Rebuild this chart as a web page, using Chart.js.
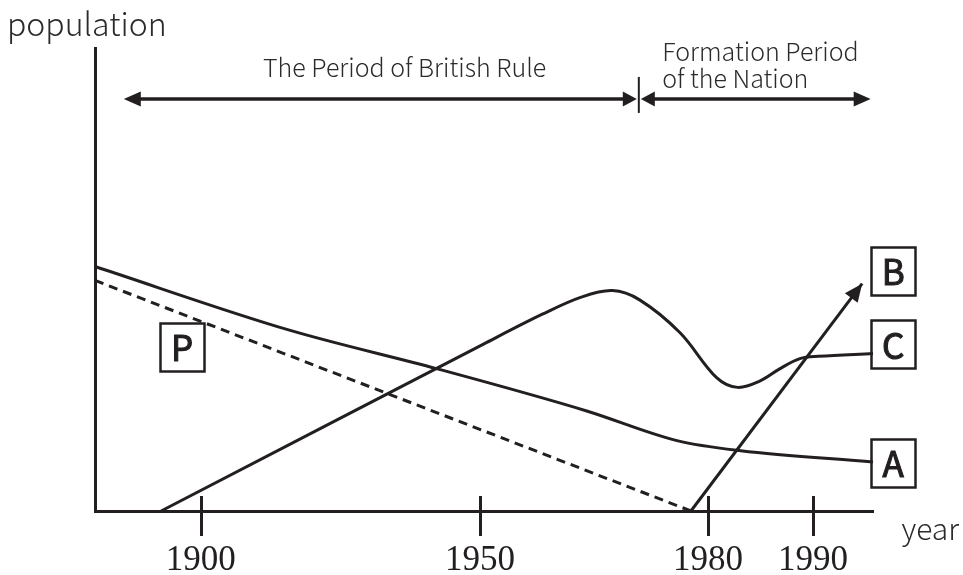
<!DOCTYPE html>
<html>
<head>
<meta charset="utf-8">
<script src="https://cdn.jsdelivr.net/npm/chart.js@4"></script>
<style>
  html, body { margin: 0; padding: 0; background: #fff; }
  #wrap { width: 963px; height: 575px; }
</style>
</head>
<body>
<div id="wrap"><canvas id="c" width="963" height="575"></canvas></div>
<script>
// ---- data (schematic x position 0-100 along the year axis, y = relative population 0-100) ----
const xTickPositions = [13.6, 49.5, 78.8, 92.3];
const xTickLabels = ['1900', '1950', '1980', '1990'];

const seriesA_x = [0, 25.1, 44.0, 63.2, 74.8, 83.0, 100];
const seriesA_y = [52.8, 39.0, 30.7, 21.6, 15.2, 13.0, 10.6];

const seriesP_x = [0, 76.6];
const seriesP_y = [49.8, 0];

const seriesB_x = [76.6, 98.6];
const seriesB_y = [0, 49.1];

const seriesC_x = [8.5, 50, 57.5, 62.5, 66.5, 70.0, 75.2, 79.9, 82.6, 85.5, 88.0, 90.6, 93.0, 100];
const seriesC_y = [0, 36.1, 42.5, 46.2, 47.6, 45.6, 38.5, 28.8, 26.7, 28.1, 30.7, 32.9, 33.4, 34.0];

const seriesLabels = ['A', 'P', 'B', 'C'];
const periodLabels = ['The Period of British Rule', 'Formation Period', 'of the Nation'];
const axisLabels = { y: 'population', x: 'year' };

const ink = '#231f20';
const textInk = '#2b2b2b';
const toPts = (xs, ys) => xs.map((x, i) => ({ x, y: ys[i] }));
const sansFam = '"Noto Sans CJK JP", "Noto Sans", sans-serif';

const overlay = {
  id: 'overlay',
  afterDraw(chart, args, o) {
    const { ctx, chartArea: ca, scales: { x, y } } = chart;
    const X = v => x.getPixelForValue(v), Y = v => y.getPixelForValue(v);
    ctx.save();
    ctx.strokeStyle = ink; ctx.fillStyle = ink;

    // tick marks crossing the x axis
    ctx.lineWidth = 3;
    x.ticks.forEach(t => {
      const px = Math.round(X(t.value)) + 0.5;
      ctx.beginPath(); ctx.moveTo(px, ca.bottom - 15); ctx.lineTo(px, ca.bottom + 25); ctx.stroke();
    });

    const head = (tx, ty, ang, len, hw) => {
      ctx.beginPath();
      ctx.moveTo(tx, ty);
      ctx.lineTo(tx - len * Math.cos(ang) + hw * Math.sin(ang), ty - len * Math.sin(ang) - hw * Math.cos(ang));
      ctx.lineTo(tx - len * Math.cos(ang) - hw * Math.sin(ang), ty - len * Math.sin(ang) + hw * Math.cos(ang));
      ctx.closePath(); ctx.fill();
    };

    // arrowhead at the end of series B
    const mB = chart.getDatasetMeta(2).data;
    const p0 = mB[mB.length - 2], p1 = mB[mB.length - 1];
    head(p1.x, p1.y, Math.atan2(p1.y - p0.y, p1.x - p0.x), 18, 8);

    // period arrows
    const py = Y(o.period.y), xs = X(o.period.start), xd = X(o.period.divide), xe = X(o.period.end);
    ctx.lineWidth = 3.5;
    ctx.beginPath(); ctx.moveTo(xs + 8, py); ctx.lineTo(xd - 10, py); ctx.stroke();
    ctx.beginPath(); ctx.moveTo(xd + 10, py); ctx.lineTo(xe - 8, py); ctx.stroke();
    head(xs, py, Math.PI, 17, 7.5);
    head(xd - 2, py, 0, 14, 7.5);
    head(xd + 2, py, Math.PI, 14, 7.5);
    head(xe, py, 0, 17, 7.5);
    ctx.lineWidth = 2;
    ctx.beginPath(); ctx.moveTo(xd, py - 22); ctx.lineTo(xd, py + 14); ctx.stroke();

    // period texts
    ctx.fillStyle = textInk;
    ctx.font = '300 25px ' + sansFam;
    ctx.textBaseline = 'alphabetic';
    ctx.textAlign = 'center';
    ctx.fillText(periodLabels[0], X(o.text1.x), Y(o.text1.y));
    ctx.textAlign = 'left';
    ctx.fillText(periodLabels[1], X(o.text2.x), Y(o.text2.y));
    ctx.fillText(periodLabels[2], X(o.text2.x), Y(o.text3y));

    // axis names
    ctx.font = '300 32px ' + sansFam;
    ctx.fillText(axisLabels.y, 7, 36);
    ctx.font = '300 30px ' + sansFam;
    ctx.textAlign = 'right';
    ctx.fillText(axisLabels.x, 959, 540);

    // boxed series labels
    ctx.fillStyle = ink;
    ctx.font = '35px ' + sansFam;
    ctx.textAlign = 'center'; ctx.textBaseline = 'middle';
    o.boxes.forEach(b => {
      const cx = X(b.x), cy = Y(b.y);
      ctx.lineWidth = 2.5;
      ctx.strokeRect(Math.round(cx - 22) + 0.5, Math.round(cy - 24) + 0.5, 44, 48);
      ctx.lineWidth = 1.1;
      ctx.fillText(b.t, cx, cy + 1);
      ctx.strokeText(b.t, cx, cy + 1);
    });
    ctx.restore();
  }
};

new Chart(document.getElementById('c'), {
  type: 'line',
  data: {
    datasets: [
      { label: seriesLabels[0], data: toPts(seriesA_x, seriesA_y), borderColor: ink, borderWidth: 3,
        cubicInterpolationMode: 'monotone', pointRadius: 0, fill: false },
      { label: seriesLabels[1], data: toPts(seriesP_x, seriesP_y), borderColor: ink, borderWidth: 3,
        borderDash: [9, 6], tension: 0, pointRadius: 0, fill: false },
      { label: seriesLabels[2], data: toPts(seriesB_x, seriesB_y), borderColor: ink, borderWidth: 3,
        tension: 0, pointRadius: 0, fill: false },
      { label: seriesLabels[3], data: toPts(seriesC_x, seriesC_y), borderColor: ink, borderWidth: 3,
        tension: 0.35, pointRadius: 0, fill: false }
    ]
  },
  options: {
    responsive: false,
    devicePixelRatio: 1,
    animation: false,
    clip: false,
    layout: { padding: { left: 0, right: 90, top: 48, bottom: 0 } },
    plugins: {
      legend: { display: false },
      tooltip: { enabled: false },
      overlay: {
        period: { start: 3.7, divide: 69.9, end: 99.7, y: 89.0 },
        text1: { x: 39.8, y: 93.7 },
        text2: { x: 72.9, y: 97.2 },
        text3y: 91.4,
        boxes: [
          { t: 'B', x: 102.6, y: 51.8 },
          { t: 'C', x: 102.6, y: 36.0 },
          { t: 'A', x: 102.6, y: 10.4 },
          { t: 'P', x: 11.2, y: 35.5 }
        ]
      }
    },
    scales: {
      x: {
        type: 'linear', min: 0, max: 100,
        afterBuildTicks: s => { s.ticks = xTickPositions.map(v => ({ value: v })); },
        afterFit: s => { s.height = 64; },
        grid: { display: false, drawTicks: false },
        border: { display: true, color: ink, width: 3 },
        ticks: {
          autoSkip: false, maxRotation: 0, minRotation: 0, padding: 29, color: ink,
          font: { family: '"Liberation Serif", serif', size: 35 },
          callback: (v, i) => xTickLabels[i]
        }
      },
      y: {
        type: 'linear', min: 0, max: 100,
        afterFit: s => { s.width = 95; },
        grid: { display: false, drawTicks: false },
        border: { display: true, color: ink, width: 3 },
        ticks: { display: false }
      }
    }
  },
  plugins: [overlay]
});
</script>
</body>
</html>
